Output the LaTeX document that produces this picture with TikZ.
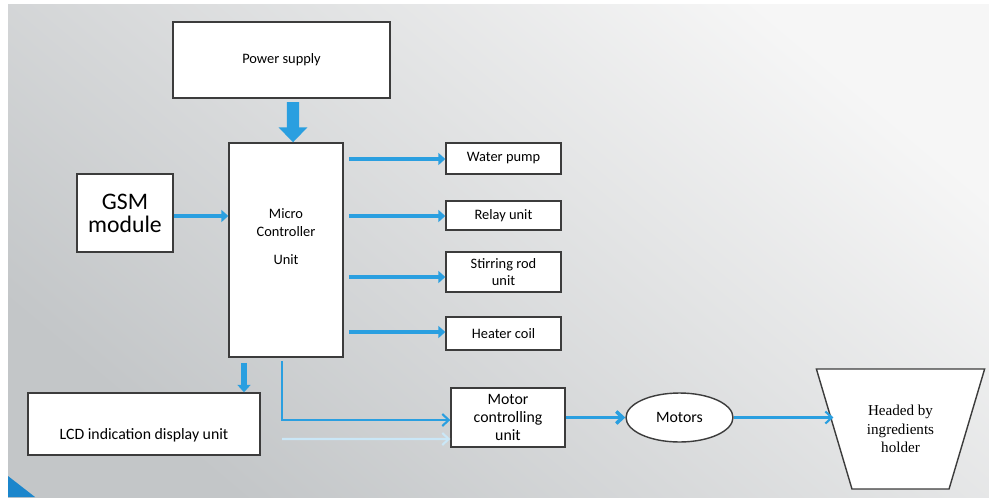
\documentclass[tikz,border=0pt]{standalone}
\usepackage{fontspec}
\setmainfont{Carlito}
\newfontfamily\serifa{Liberation Serif}
\usepackage{tikz}
\usetikzlibrary{shapes.geometric, arrows.meta, positioning, calc}
\definecolor{azul}{HTML}{2A9FE0}
\definecolor{azuloscuro}{HTML}{1B86CC}
\definecolor{borde}{HTML}{3C3C3C}
\definecolor{fondoa}{HTML}{F6F6F6}
\definecolor{fondob}{HTML}{C3C6C8}
\tikzset{
  caja/.style={rectangle, draw=borde, thick, fill=white, align=center,
    font=\fontsize{8.2}{10}\selectfont, inner sep=1pt},
  salida/.style={caja, minimum width=2.3cm},
  flecha/.style={-{Triangle[width=0.24cm, length=0.14cm]}, line width=2.6pt, azul},
  gorda/.style={-{Triangle[width=0.56cm, length=0.3cm]}, line width=7pt, azul},
  fina/.style={-{Straight Barb[width=0.24cm, length=0.13cm]}, line width=1.2pt, azul}
}

\begin{document}
\begin{tikzpicture}[x=0.02cm, y=-0.02cm]

  % --- Fondo ---
  \fill[white] (0,0) rectangle (989,497);
  \shade[shading=axis, top color=fondoa, bottom color=fondob, shading angle=-40]
    (8,4) rectangle (989,497);
  \fill[azuloscuro] (8,476) -- (8,497) -- (35,497) -- cycle;

  % --- Bloques ---
  \node[caja, minimum width=4.34cm, minimum height=1.52cm] (psu) at (281.5,60) {Power supply};
  \node[caja, minimum width=2.28cm, minimum height=4.28cm,
    label={[anchor=north, yshift=-1.2cm, align=center,
      font=\fontsize{8.2}{10}\selectfont]north:Micro\\Controller\\[6pt]Unit}] (mcu) at (286,250) {};
  \node[caja, minimum width=1.92cm, minimum height=1.56cm,
    font=\fontsize{13.5}{13}\selectfont] (gsm) at (125,213) {GSM\\module};

  \node[salida, minimum height=0.62cm] (water)  at (503.5,158.5) {Water pump};
  \node[salida, minimum height=0.58cm] (relay)  at (503.5,215.5) {Relay unit};
  \node[salida, minimum height=0.80cm] (stir)   at (503.5,272)   {Stirring rod\\unit};
  \node[salida, minimum height=0.66cm] (heater) at (503.5,333.5) {Heater coil};

  \node[caja, minimum width=4.64cm, minimum height=1.24cm, inner ysep=0.12cm,
    text height=0.8cm, text depth=0.2cm, font=\fontsize{9}{11}\selectfont]
    (lcd) at (144,424) {LCD indication display unit};
  \node[caja, minimum width=2.28cm, minimum height=1.18cm,
    font=\fontsize{9}{10.5}\selectfont] (mc) at (508,417.5) {Motor\\controlling\\unit};
  \node[ellipse, draw=borde, thick, fill=white, minimum width=2.14cm, minimum height=0.98cm,
    font=\fontsize{9}{11}\selectfont] (motors) at (679.5,417.5) {Motors};
  \node[trapezium, trapezium stretches=true, shape border rotate=180,
    trapezium left angle=64, trapezium right angle=64,
    draw=borde, thick, fill=white, minimum width=3.38cm, minimum height=2.4cm,
    align=center, font={\serifa\fontsize{8.6}{10.5}\selectfont}] (holder) at (900.5,429)
    {Headed by\\ingredients\\holder};
  \coordinate (sombra) at (282,439);

  % --- Conexiones ---
  \draw[gorda, shorten <=2pt] ($(psu.south)+(11.5,0)$) -- ($(mcu.north)+(7,0)$);
  \draw[flecha] (gsm.east |- 0,216) -- (mcu.west |- 0,216);
  \foreach \n/\dy in {water/0.5, relay/0.5, stir/5, heater/-1.5}
    \draw[flecha, shorten <=3pt] ($(mcu.east |- \n.west)+(0,\dy)$) -- ($(\n.west)+(0,\dy)$);
  \draw[-{Triangle[width=0.26cm, length=0.15cm]}, line width=3.6pt, azul, shorten <=3pt]
    ($(mcu.south)+(-42,0)$) -- ($(lcd.north)+(100,0)$);
  \draw[fina, shorten <=2pt] ($(mcu.south)+(-4,0)$) |- ($(mc.west)+(0,2.5)$);
  \draw[fina, azul!25] (sombra) -- ($(mc.west)+(0,21.5)$);
  \draw[fina, line width=2pt] (mc.east) -- (motors.west);
  \draw[fina] (motors.east) -- (motors.east -| holder.west);

\end{tikzpicture}
\end{document}
